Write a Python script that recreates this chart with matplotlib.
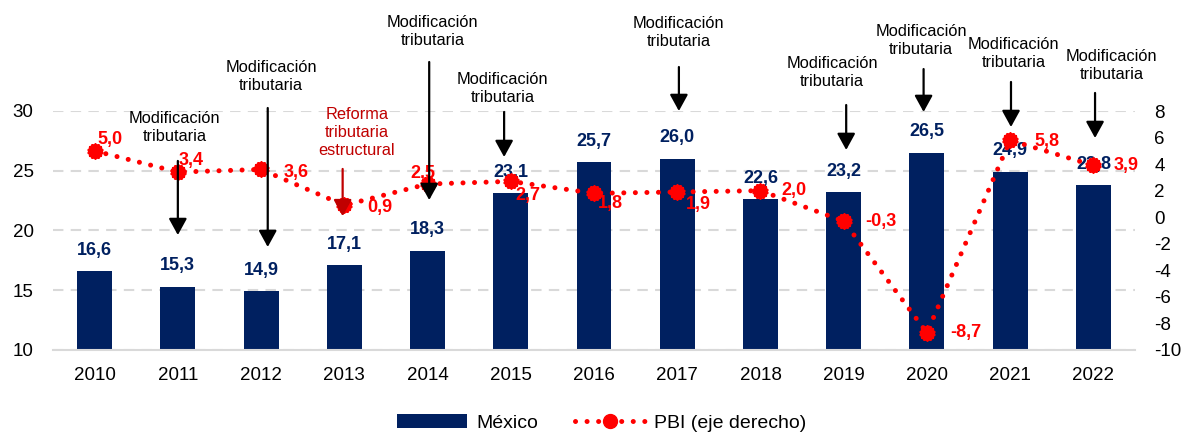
import matplotlib
matplotlib.use("Agg")
import matplotlib.pyplot as plt

plt.rcParams['font.family'] = ['Liberation Sans', 'DejaVu Sans']
plt.rcParams['axes.unicode_minus'] = False

# ---- data ----
years = ['2010', '2011', '2012', '2013', '2014', '2015', '2016', '2017',
         '2018', '2019', '2020', '2021', '2022']
mexico = [16.6, 15.3, 14.9, 17.1, 18.3, 23.1, 25.7, 26.0, 22.6, 23.2, 26.5, 24.9, 23.8]
pbi = [5.0, 3.4, 3.6, 0.9, 2.5, 2.7, 1.8, 1.9, 2.0, -0.3, -8.7, 5.8, 3.9]
left_ticks = [10, 15, 20, 25, 30]
right_ticks = [-10, -8, -6, -4, -2, 0, 2, 4, 6, 8]
series_names = ['México', 'PBI (eje derecho)']
note_text = 'Modificación\ntributaria'
reform_text = 'Reforma\ntributaria\nestructural'

# annotation layout (arrow x, text x, text y, arrow top, arrow tip) in left-axis units
notes = [
    (1, 0.96, 28.62, 25.82, 19.62),
    (2.08, 2.12, 32.89, 30.25, 18.62),
    (4.02, 4.06, 36.69, 34.10, 22.55),
    (4.92, 4.90, 31.88, 29.92, 26.15),
    (7.02, 7.02, 36.61, 33.68, 30.00),
    (9.03, 8.86, 33.22, 30.50, 26.74),
    (9.96, 9.93, 35.94, 33.51, 29.92),
    (11.01, 11.04, 34.81, 32.43, 28.66),
    (12.02, 12.22, 33.77, 31.51, 27.74),
]
reform_note = (2.98, 3.15, 28.24, 25.15, 21.2)

# PBI label offsets in pixels (dx to left edge, dy down)
pbi_off = [(3, -11), (1, -12), (23, 3), (23, 2), (-17, -11), (5, 14), (4, 10),
           (9, 13), (21, 0), (22, 0), (23, 0), (24, 1), (20, 0)]

NAVY = '#002060'
RED = '#FF0000'
DARKRED = '#C00000'
GRID = '#D9D9D9'

W, H = 1189, 433
fig = plt.figure(figsize=(W / 100, H / 100), dpi=100)
ax1 = fig.add_axes([53 / W, 1 - 350 / H, (1135 - 53) / W, (350 - 111) / H])
ax2 = ax1.twinx()

x = list(range(len(years)))
bars = ax1.bar(x, mexico, width=0.42, color=NAVY, zorder=2, label=series_names[0])
ax1.set_xlim(-0.5, 12.5)
ax1.set_ylim(10, 30)
ax1.set_yticks(left_ticks)
ax1.set_xticks(x)
ax1.set_xticklabels(years)
ax1.tick_params(axis='both', length=0, labelsize=13.5, colors='black')
ax1.tick_params(axis='y', pad=14)
ax1.tick_params(axis='x', pad=12)
for s in ['top', 'left', 'right']:
    ax1.spines[s].set_visible(False)
ax1.spines['bottom'].set_color(GRID)
ax1.spines['bottom'].set_linewidth(1.5)
ax1.yaxis.grid(True, color=GRID, linestyle=(0, (5, 3.5)), linewidth=1.5, zorder=0)
ax1.set_axisbelow(True)

for i, v in enumerate(mexico):
    ax1.annotate(f"{v:.1f}".replace('.', ','), xy=(i, v), xytext=(0, 9),
                 textcoords='offset points', ha='center', va='bottom',
                 fontsize=13, fontweight='bold', color=NAVY)

line, = ax2.plot(x, pbi, color=RED, linewidth=3.6,
                 linestyle=(0, (0.01, 2.3)), dash_capstyle='round',
                 marker='o', markersize=10, markerfacecolor=RED,
                 markeredgecolor=RED, zorder=3, label=series_names[1])
ax2.plot(x, pbi, linestyle='none', marker=(14, 2, 0), markersize=11.5,
         markeredgecolor=RED, markeredgewidth=1.2, zorder=3)
ax2.set_ylim(-10, 8)
ax2.set_yticks(right_ticks)
ax2.tick_params(axis='y', length=0, labelsize=13.5, pad=14, colors='black')
for s in ['top', 'left', 'right', 'bottom']:
    ax2.spines[s].set_visible(False)

for i, v in enumerate(pbi):
    dx, dy = pbi_off[i]
    ax2.annotate(f"{v:.1f}".replace('.', ','), xy=(i, v),
                 xytext=(dx / 1.39, -dy / 1.39), textcoords='offset points',
                 ha='left', va='center', fontsize=13, fontweight='bold',
                 color=RED, zorder=4)

def draw_note(n, text, color):
    ax_x, tx, ty, top, tip = n
    ax2.annotate('', xy=(ax_x, tip), xytext=(ax_x, top),
                 xycoords=ax1.transData, textcoords=ax1.transData,
                 arrowprops=dict(arrowstyle='-|>,head_length=1.0,head_width=0.55',
                                 mutation_scale=10, lw=1.6, color=color,
                                 shrinkA=0, shrinkB=0),
                 annotation_clip=False, zorder=5)
    ax2.text(tx, ty, text, transform=ax1.transData, ha='center', va='center',
             fontsize=11.8, color=color, linespacing=1.25, clip_on=False, zorder=5)

for n in notes:
    draw_note(n, note_text, 'black')
draw_note(reform_note, reform_text, DARKRED)

fig.legend(handles=[bars, line], labels=series_names, loc='center',
           bbox_to_anchor=(0.506, 1 - 423 / H), ncol=2, frameon=False,
           fontsize=14, handlelength=3.6, handletextpad=0.45,
           columnspacing=1.9)

fig.savefig('out.png', dpi=100)
